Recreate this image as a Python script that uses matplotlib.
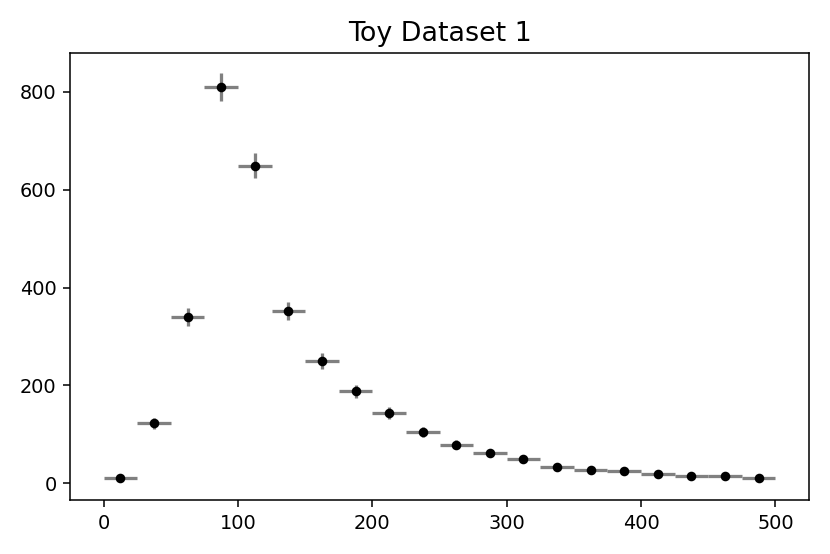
import numpy as np
import matplotlib
matplotlib.use("Agg")
import matplotlib.pyplot as plt

bin_centers = [12.5, 37.5, 62.5, 87.5, 112.5, 137.5, 162.5, 187.5, 212.5, 237.5,
               262.5, 287.5, 312.5, 337.5, 362.5, 387.5, 412.5, 437.5, 462.5, 487.5]
counts = [10, 123, 340, 810, 649, 352, 250, 188, 143, 104,
          79, 61, 49, 34, 28, 26, 20, 14, 15, 10]
bin_half_width = 12.5

x = np.array(bin_centers)
y = np.array(counts, dtype=float)
yerr = np.sqrt(y)

dpi = 138.333
fig = plt.figure(figsize=(830 / dpi, 554 / dpi), dpi=dpi)
ax = fig.add_axes([70 / 830, 1 - 500.3 / 554, (809 - 70) / 830, (500.3 - 52.7) / 554])
ax.errorbar(x, y, xerr=bin_half_width, yerr=yerr, fmt='o', color='k', ms=4,
            ecolor='#808080', elinewidth=1.7, capsize=0, zorder=3)
ax.set_title("Toy Dataset 1", fontsize=14)
fig.savefig("out.png", dpi=dpi)
